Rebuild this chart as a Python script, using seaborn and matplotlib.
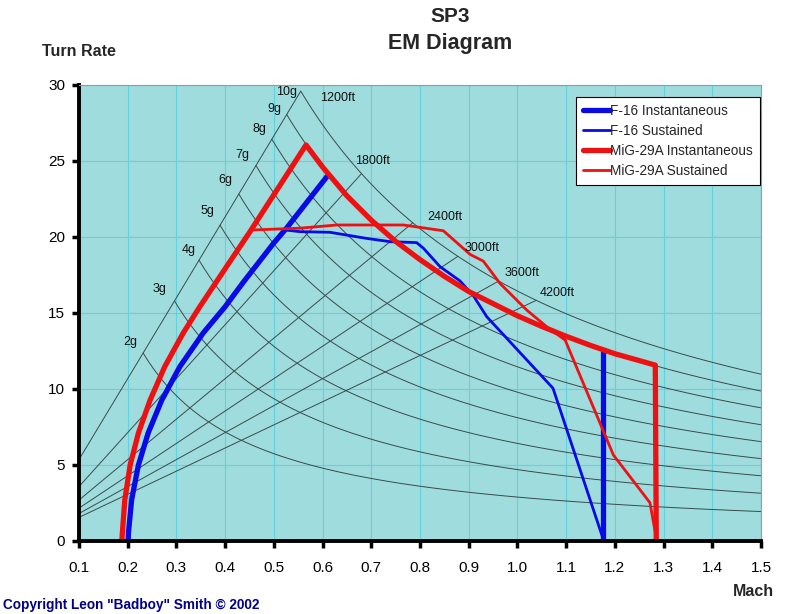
#------------------SP3 energy-manoeuvrability diagram, F-16 vs MiG-29A
import numpy as np
import pandas as pd
import matplotlib
matplotlib.use('Agg')
import matplotlib.pyplot as plt
import seaborn as sns

#Values (Mach, turn rate in deg/s)
f16_inst_mach = [0.201, 0.2015, 0.208, 0.222, 0.242, 0.270, 0.307, 0.355, 0.400, 0.437, 0.500, 0.526, 0.609]
f16_inst_rate = [0.0, 0.5, 2.67, 4.97, 7.08, 9.25, 11.45, 13.67, 15.4, 17.0, 19.6, 20.57, 23.97]
f16_limit_mach = [1.175, 1.175]
f16_limit_rate = [12.44, 0.0]

f16_sust_mach = [0.523, 0.554, 0.615, 0.690, 0.739, 0.793, 0.807, 0.841, 0.882, 0.910, 0.937, 1.073, 1.177]
f16_sust_rate = [20.45, 20.34, 20.3, 19.9, 19.68, 19.62, 19.25, 18.04, 17.1, 16.1, 14.74, 10.03, 0.0]

mig_inst_mach = [0.188, 0.189, 0.194, 0.205, 0.222, 0.246, 0.276, 0.314, 0.348, 0.400, 0.451, 0.566,
                 0.600, 0.650, 0.700, 0.750, 0.800, 0.850, 0.900, 0.950, 1.000, 1.050, 1.100, 1.150,
                 1.200, 1.250, 1.283, 1.285]
mig_inst_rate = [0.0, 0.5, 2.67, 4.97, 7.08, 9.25, 11.45, 13.67, 15.4, 17.9, 20.34, 26.05,
                 24.6, 22.7, 21.1, 19.7, 18.5, 17.4, 16.4, 15.6, 14.8, 14.1, 13.45, 12.85,
                 12.3, 11.85, 11.55, 0.0]

mig_sust_mach = [0.4545, 0.554, 0.629, 0.766, 0.848, 0.903, 0.930, 0.964, 1.019, 1.060, 1.098, 1.197, 1.272, 1.286]
mig_sust_rate = [20.45, 20.57, 20.78, 20.78, 20.4, 18.84, 18.4, 16.94, 15.18, 14.08, 13.2, 5.63, 2.49, 0.0]

#Reference grid: load factor curves and turn radius lines
g_loads = [2, 3, 4, 5, 6, 7, 8, 9, 10]
radii_ft = [1200, 1800, 2400, 3000, 3600, 4200]
sound_fps = 1116.4
g_fps2 = 32.174

x_ticks = [0.1, 0.2, 0.3, 0.4, 0.5, 0.6, 0.7, 0.8, 0.9, 1.0, 1.1, 1.2, 1.3, 1.4, 1.5]
y_ticks = [0, 5, 10, 15, 20, 25, 30]

sns.set_style('ticks')
plt.rcParams['font.family'] = ['Liberation Sans', 'DejaVu Sans']

fig = plt.figure(figsize=(8, 6.14), dpi=100)
ax = fig.add_axes([79/800, 1-540.5/614, (761-79)/800, (540.5-85)/614])
ax.set_facecolor('#9FDCDE')

#turn rate (deg/s) for a load factor / for a radius, at a given Mach
deg = 180/np.pi
def g_rate(n, m):
    return g_fps2*np.sqrt(n**2-1)/(m*sound_fps)*deg
def r_rate(r, m):
    return m*sound_fps/r*deg

r_min = radii_ft[0]
g_max = g_loads[-1]
rows = []
for n in g_loads:
    k = g_fps2*np.sqrt(n**2-1)/sound_fps*deg
    m0 = np.sqrt(k/(sound_fps/r_min*deg))
    for m in np.linspace(m0, 1.5, 120):
        rows.append(('%dg' % n, m, g_rate(n, m)))
for r in radii_ft:
    k = g_fps2*np.sqrt(g_max**2-1)/sound_fps*deg
    m1 = np.sqrt(k/(sound_fps/r*deg))
    for m in [0.1, m1]:
        rows.append(('%dft' % r, m, r_rate(r, m)))
ref = pd.DataFrame(rows, columns=['curve', 'Mach', 'rate'])
sns.lineplot(data=ref, x='Mach', y='rate', units='curve', estimator=None, sort=False,
             color='#3a4a4a', lw=0.7, legend=False, ax=ax)

#labels at the ends of the reference curves (offsets in pixels)
g_off = {10: (-14, -1), 9: (-12, 5), 8: (-12, 10), 7: (-14, 11), 6: (-13, 14),
         5: (-13, 14), 4: (-10, 10), 3: (-15, 12), 2: (-13, 11)}
for n in g_loads:
    k = g_fps2*np.sqrt(n**2-1)/sound_fps*deg
    m0 = np.sqrt(k/(sound_fps/r_min*deg))
    ax.annotate('%dg' % n, (m0, g_rate(n, m0)), xytext=g_off[n], textcoords='offset pixels',
                ha='center', va='center', fontsize=9, color='#111111')
r_off = {1200: (37, -7), 1800: (11, 13), 2400: (32, 6), 3000: (24, 8), 3600: (23, 8), 4200: (21, 7)}
for r in radii_ft:
    k = g_fps2*np.sqrt(g_max**2-1)/sound_fps*deg
    m1 = np.sqrt(k/(sound_fps/r*deg))
    ax.annotate('%dft' % r, (m1, r_rate(r, m1)), xytext=r_off[r], textcoords='offset pixels',
                ha='center', va='center', fontsize=9, color='#111111')

#the four envelopes
blue = '#0A0AE6'
red = '#EE1111'
sns.lineplot(x=f16_inst_mach, y=f16_inst_rate, sort=False, estimator=None, color=blue, lw=3.8,
             label='F-16 Instantaneous', ax=ax)
sns.lineplot(x=f16_limit_mach, y=f16_limit_rate, sort=False, estimator=None, color=blue, lw=3.8, ax=ax)
sns.lineplot(x=f16_sust_mach, y=f16_sust_rate, sort=False, estimator=None, color=blue, lw=2.0,
             label='F-16 Sustained', ax=ax)
sns.lineplot(x=mig_inst_mach, y=mig_inst_rate, sort=False, estimator=None, color=red, lw=3.8,
             label='MiG-29A Instantaneous', ax=ax)
sns.lineplot(x=mig_sust_mach, y=mig_sust_rate, sort=False, estimator=None, color=red, lw=2.0,
             label='MiG-29A Sustained', ax=ax)

ax.set_xlim(0.1, 1.5)
ax.set_ylim(0, 30)
ax.set_xticks(x_ticks)
ax.set_xticklabels(['%.1f' % v for v in x_ticks])
ax.set_yticks(y_ticks)
ax.set_xlabel('')
ax.set_ylabel('')
ax.grid(True, which='major', color='#62D2DE', lw=0.8)
ax.set_axisbelow(True)
ax.tick_params(axis='both', direction='out', length=5, width=2.5, labelsize=11, colors='black')
ax.tick_params(axis='x', pad=10)
ax.tick_params(axis='y', pad=5)
for s in ['left', 'bottom']:
    ax.spines[s].set_linewidth(2.8)
    ax.spines[s].set_color('black')
for s in ['top', 'right']:
    ax.spines[s].set_linewidth(0.8)
    ax.spines[s].set_color('#9a9a9a')

leg = ax.legend(loc='upper right', bbox_to_anchor=(760/800, 1-97/614), bbox_transform=fig.transFigure,
                borderaxespad=0, fontsize=9.8, frameon=True, fancybox=False, framealpha=1,
                edgecolor='black', handlelength=2.0, handletextpad=0.05, labelspacing=0.45,
                borderpad=0.5)
leg.get_frame().set_linewidth(0.8)

fig.text(450/800, 1-16/614, 'SP3', ha='center', va='center', fontsize=15, fontweight='bold')
fig.text(450/800, 1-43/614, 'EM Diagram', ha='center', va='center', fontsize=15.5, fontweight='bold')
fig.text(42/800, 1-52/614, 'Turn Rate', ha='left', va='center', fontsize=11.5, fontweight='bold')
fig.text(753/800, 1-592/614, 'Mach', ha='center', va='center', fontsize=11.5, fontweight='bold')
fig.text(3/800, 1-605/614, 'Copyright Leon "Badboy" Smith \u00a9 2002', ha='left', va='center',
         fontsize=9.8, fontweight='bold', color='#000088')

fig.savefig('out.png', dpi=100)
